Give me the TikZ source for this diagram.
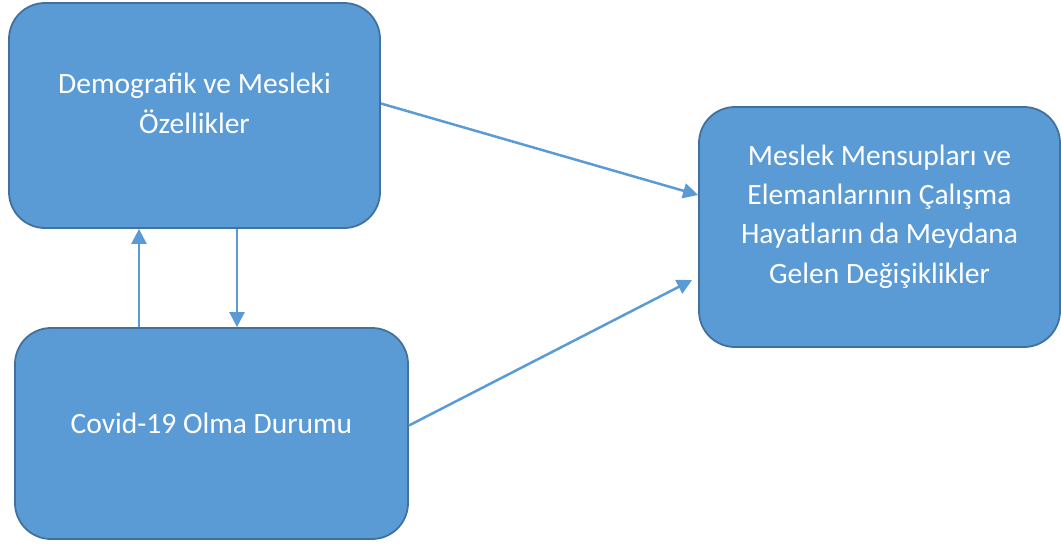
\documentclass[tikz,border=0pt]{standalone}
\usepackage{fontspec}
\setmainfont{Carlito}
\usetikzlibrary{arrows.meta}
\definecolor{boxfill}{HTML}{5B9BD5}
\definecolor{boxline}{HTML}{41719C}

\begin{document}
\begin{tikzpicture}[x=1pt, y=-1pt,
    box/.style={draw=boxline, fill=boxfill, line width=1.8pt, rounded corners=36pt, inner sep=0pt},
    txt/.style={text=white, align=center, inner sep=0pt, font=\fontsize{29.5}{39.3}\selectfont},
    conn/.style={draw=boxfill, line width=2.5pt, -{Triangle[length=15pt, width=15pt]}}]
    \useasboundingbox (0,0) rectangle (1061,544);
    % the three boxes
    \node[box, minimum width=371pt, minimum height=225pt] (demo) at (194.5,115.5) {};
    \node[box, minimum width=393pt, minimum height=211pt] (covid) at (211.5,433.5) {};
    \node[box, minimum width=361pt, minimum height=240pt] (res) at (879.5,227) {};
    % texts
    \node[txt, yshift=12pt] (demotxt) at (demo.center) {Demografik ve Mesleki\\Özellikler};
    \node[txt, yshift=10pt] (covidtxt) at (covid.center) {Covid-19 Olma Durumu};
    \node[txt, yshift=10.5pt] (restxt) at (res.center) {Meslek Mensupları ve\\Elemanlarının Çalışma\\Hayatların da Meydana\\Gelen Değişiklikler};
    % arrows
    \draw[conn] ([xshift=-55.5pt]demo.south |- covid.north) -- ([xshift=-55.5pt]demo.south);
    \draw[conn] ([xshift=42.5pt]demo.south) -- ([xshift=42.5pt]demo.south |- covid.north);
    \draw[conn] ([yshift=12pt]demo.east) -- ([yshift=32pt]res.west);
    \draw[conn] ([yshift=8pt]covid.east) -- ([xshift=-6pt, yshift=-53pt]res.west);
\end{tikzpicture}
\end{document}
